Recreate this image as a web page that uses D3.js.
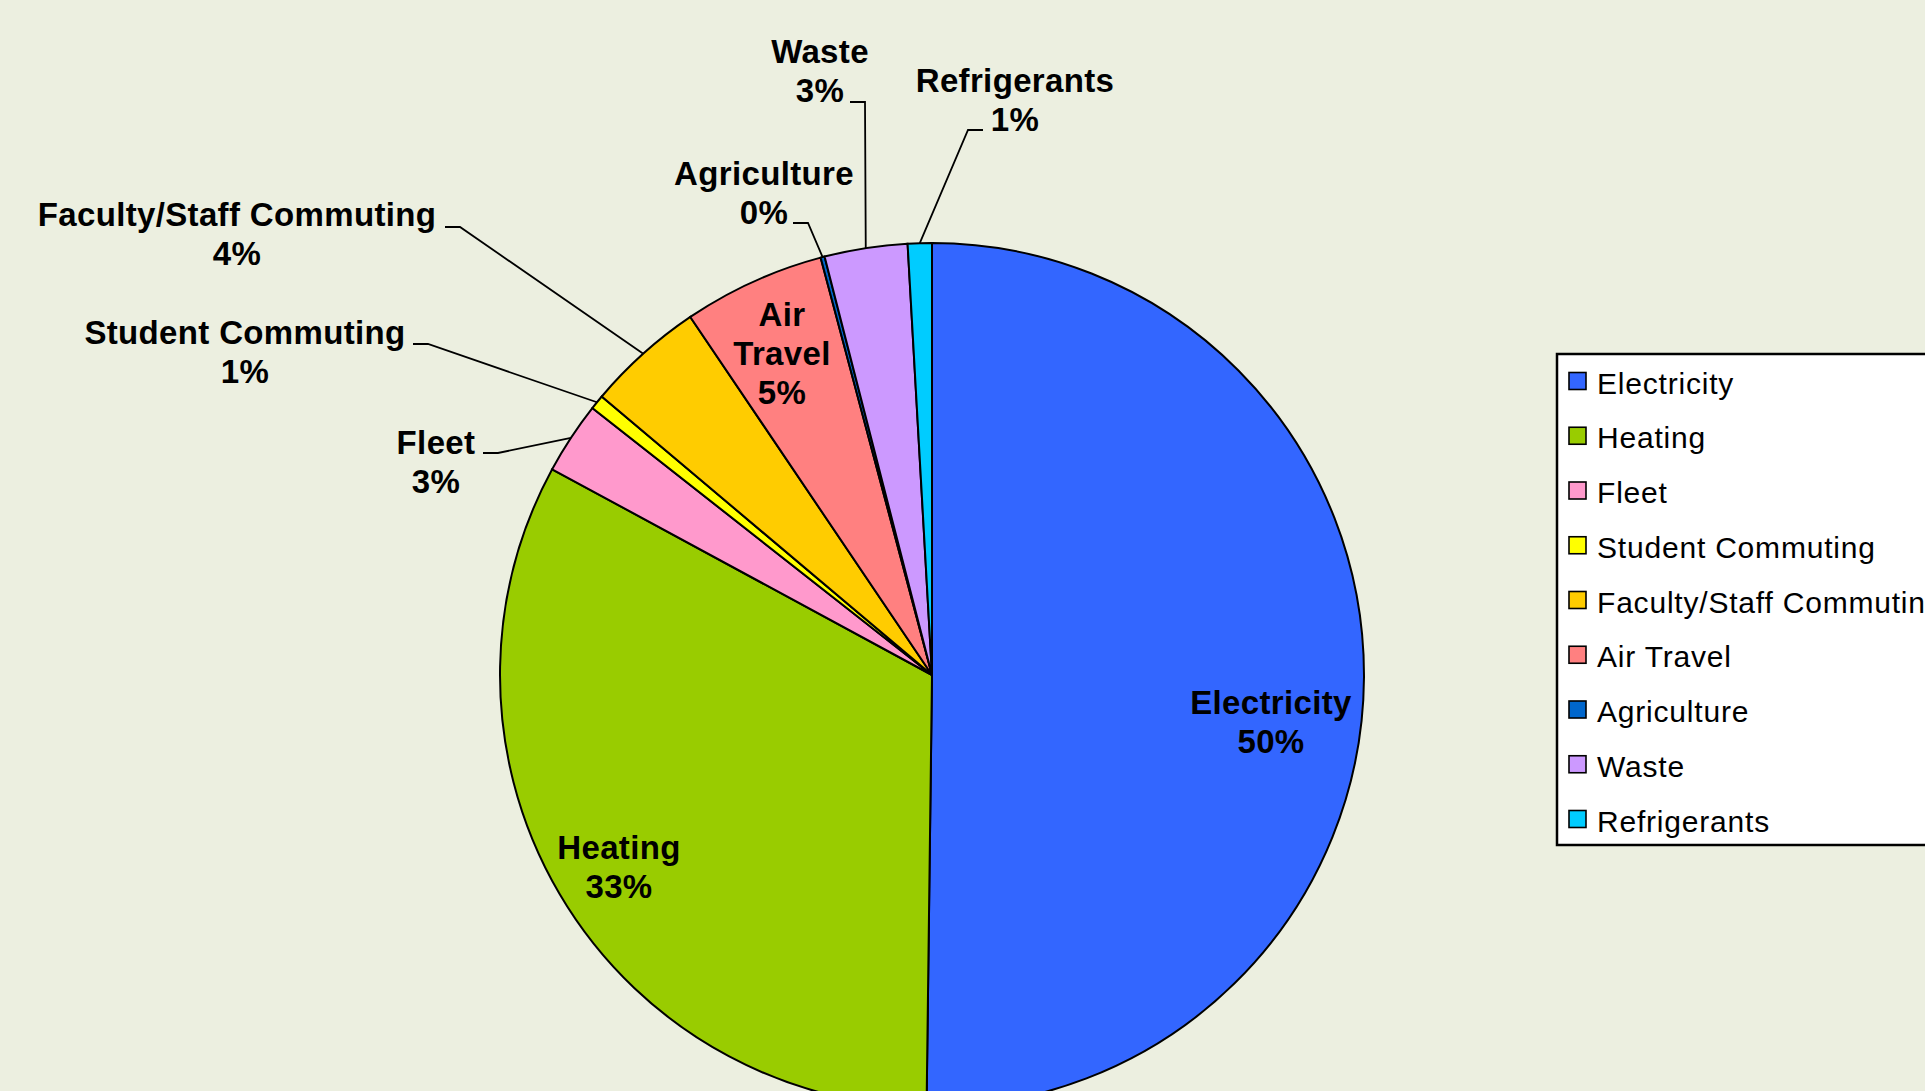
<!DOCTYPE html>
<meta charset="utf-8">
<title>Emissions by source</title>
<style>
body {
  margin: 0;
  background: #ECEFE0;
  overflow: hidden;
}
svg {
  display: block;
  font-family: "Liberation Sans", Arial, sans-serif;
}
.slice {
  stroke: #000;
  stroke-width: 2;
}
.lbl {
  font-weight: bold;
  font-size: 33px;
  letter-spacing: 0.35px;
  fill: #000;
  text-anchor: middle;
}
.leader {
  fill: none;
  stroke: #000;
  stroke-width: 1.8;
}
.legend-box {
  fill: #fff;
  stroke: #000;
  stroke-width: 2.5;
}
.legend text {
  font-size: 30px;
  letter-spacing: 0.8px;
  fill: #000;
}
</style>
<body>
<svg id="chart" width="1925" height="1091"></svg>

<script src="https://cdn.jsdelivr.net/npm/d3@7"></script>
<script>

// data (percent of total)
var categories = ["Electricity", "Heating", "Fleet", "Student Commuting",
  "Faculty/Staff Commuting", "Air Travel", "Agriculture", "Waste", "Refrigerants"];
var shares = [50.2, 32.7, 2.7, 0.55, 4.4, 5.3, 0.15, 3.1, 0.9];
var colors = ["#3366FF", "#99CC00", "#FF99CC", "#FFFF00", "#FFCC00",
  "#FF8080", "#0066CC", "#CC99FF", "#00CCFF"];

// where each label sits (centre x, first baseline); hook = leader start for outside labels
var labelSpots = {
  "Electricity":             {x: 1271, y: 714, lines: ["Electricity"]},
  "Heating":                 {x: 619,  y: 859, lines: ["Heating"]},
  "Air Travel":              {x: 782,  y: 326, lines: ["Air", "Travel"]},
  "Fleet":                   {x: 436,  y: 454, hook: [483, 453]},
  "Student Commuting":       {x: 245,  y: 344, hook: [413, 344]},
  "Faculty/Staff Commuting": {x: 237,  y: 226, hook: [445, 227]},
  "Agriculture":             {x: 764,  y: 185, hook: [793, 223]},
  "Waste":                   {x: 820,  y: 63,  hook: [850, 102]},
  "Refrigerants":            {x: 1015, y: 92,  hook: [983, 130]}
};

var cx = 932, cy = 675, radius = 432;
var lineGap = 39;

var svg = d3.select("#chart");

var total = d3.sum(shares);
var pct = d3.format(".0%");
var color = d3.scaleOrdinal().domain(categories).range(colors);

var rows = categories.map(function(c, i) { return {name: c, value: shares[i]}; });

var pie = d3.pie()
  .value(function(d) { return d.value; })
  .sort(null);

var arcs = pie(rows);

var arc = d3.arc().innerRadius(0).outerRadius(radius);

var g = svg.append("g").attr("transform", "translate(" + cx + "," + cy + ")");

g.selectAll("path.slice")
  .data(arcs)
  .enter()
  .append("path")
  .attr("class", "slice")
  .attr("d", arc)
  .style("fill", function(d) { return color(d.data.name); });

// leader lines for labels that sit outside the pie
var edge = function(d) {
  var a = (d.startAngle + d.endAngle) / 2;
  return [cx + radius * Math.sin(a), cy - radius * Math.cos(a)];
};

var outside = arcs.filter(function(d) { return labelSpots[d.data.name].hook; });

svg.selectAll("path.leader")
  .data(outside)
  .enter()
  .append("path")
  .attr("class", "leader")
  .attr("d", function(d) {
    var h = labelSpots[d.data.name].hook;
    var p = edge(d);
    var dir = p[0] > h[0] ? 15 : -15;
    return d3.line()([h, [h[0] + dir, h[1]], p]);
  });

// labels: name lines then percent
var labels = svg.selectAll("text.lbl")
  .data(arcs)
  .enter()
  .append("text")
  .attr("class", "lbl");

labels.each(function(d) {
  var spot = labelSpots[d.data.name];
  var lines = (spot.lines || [d.data.name]).concat([pct(d.data.value / total)]);
  d3.select(this).selectAll("tspan")
    .data(lines)
    .enter()
    .append("tspan")
    .attr("x", spot.x)
    .attr("y", function(t, i) { return spot.y + i * lineGap; })
    .text(function(t) { return t; });
});

// legend
var legend = svg.append("g").attr("class", "legend");

legend.append("rect")
  .attr("class", "legend-box")
  .attr("x", 1557)
  .attr("y", 354)
  .attr("width", 420)
  .attr("height", 491);

var rowY = d3.scalePoint()
  .domain(categories)
  .range([381, 819]);

var item = legend.selectAll("g.item")
  .data(categories)
  .enter()
  .append("g")
  .attr("class", "item")
  .attr("transform", function(d) { return "translate(1569," + rowY(d) + ")"; });

item.append("rect")
  .attr("x", 0)
  .attr("y", -8.5)
  .attr("width", 17)
  .attr("height", 17)
  .style("fill", function(d) { return color(d); })
  .style("stroke", "#000")
  .style("stroke-width", 1.6);

item.append("text")
  .attr("x", 28)
  .attr("y", 12.5)
  .text(function(d) { return d; });

</script>
</body>
